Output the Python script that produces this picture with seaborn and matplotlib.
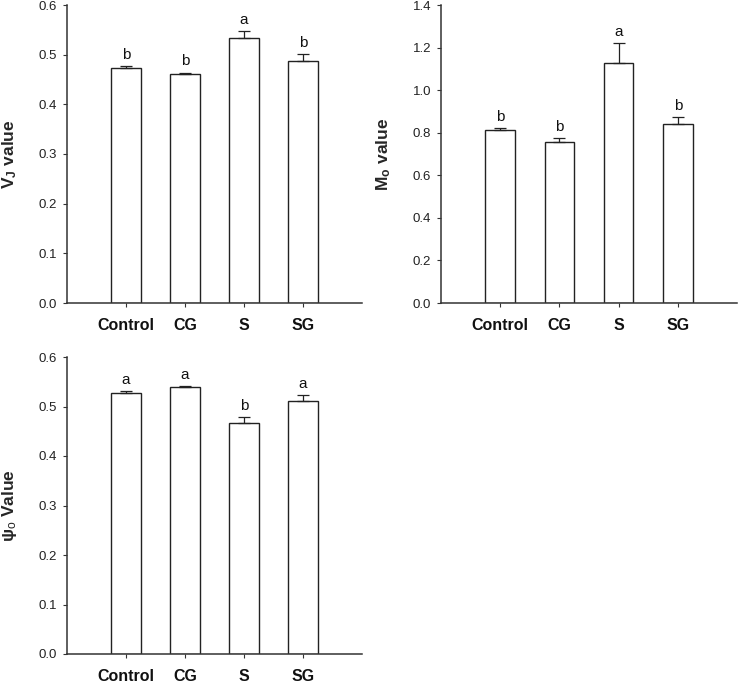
import matplotlib
matplotlib.use("Agg")
import matplotlib.pyplot as plt
import seaborn as sns
import numpy as np
import pandas as pd

groups = ["Control", "CG", "S", "SG"]

vj_mean = [0.473, 0.462, 0.534, 0.488]
vj_err = [0.004, 0.002, 0.013, 0.013]
vj_sig = ["b", "b", "a", "b"]

mo_mean = [0.811, 0.756, 1.126, 0.840]
mo_err = [0.010, 0.019, 0.095, 0.033]
mo_sig = ["b", "b", "a", "b"]

psi_mean = [0.527, 0.539, 0.466, 0.511]
psi_err = [0.004, 0.002, 0.013, 0.012]
psi_sig = ["a", "a", "b", "a"]

sns.set_style("ticks")
plt.rcParams["font.family"] = ["Liberation Sans", "DejaVu Sans"]
plt.rcParams["mathtext.fontset"] = "custom"
plt.rcParams["mathtext.rm"] = "Liberation Sans"
plt.rcParams["mathtext.bf"] = "Liberation Sans:bold"
plt.rcParams["mathtext.it"] = "Liberation Sans:italic"

EDGE = "#222222"
AXC = "#333333"


def draw_panel(ax, means, errs, sig, ylabel, ymax, ystep):
    df = pd.DataFrame({"group": groups, "value": means})
    sns.barplot(data=df, x="group", y="value", ax=ax, color="white",
                edgecolor=EDGE, linewidth=1.0, width=0.5, errorbar=None)
    pos = np.arange(len(groups))
    ax.errorbar(pos, means, yerr=[np.zeros(len(errs)), errs], fmt="none",
                ecolor=EDGE, elinewidth=0.9, capsize=4, capthick=0.9)
    for x, m, e, s in zip(pos, means, errs, sig):
        ax.annotate(s, (x, m + e), xytext=(0, 3), textcoords="offset points",
                    ha="center", va="bottom", fontsize=11, color="#111111")
    ax.set_xlim(-1, 4)
    ax.set_ylim(0, ymax)
    ax.set_yticks(np.arange(0, ymax + ystep / 2, ystep))
    ax.yaxis.set_major_formatter(matplotlib.ticker.FormatStrFormatter("%.1f"))
    ax.set_xlabel("")
    ax.set_ylabel(ylabel, fontsize=12.5, fontweight="bold")
    ax.yaxis.set_label_coords(-0.162, 0.5)
    sns.despine(ax=ax)
    for sp in ["left", "bottom"]:
        ax.spines[sp].set_color(AXC)
        ax.spines[sp].set_linewidth(1.1)
    ax.tick_params(axis="y", direction="out", length=3, width=0.8,
                   colors=AXC, labelsize=9.5, labelcolor="#222222", pad=4)
    ax.tick_params(axis="x", direction="out", length=3, width=0.8,
                   colors=AXC, labelsize=11.5, labelcolor="#111111", pad=8)
    for lab in ax.get_xticklabels():
        lab.set_fontweight("bold")


fig = plt.figure(figsize=(7.38, 6.82), dpi=100)
W, H = 738, 682
ax1 = fig.add_axes([67 / W, (H - 303) / H, 295 / W, 298 / H])
ax2 = fig.add_axes([441 / W, (H - 303) / H, 296 / W, 298 / H])
ax3 = fig.add_axes([67 / W, (H - 654) / H, 295 / W, 297 / H])

draw_panel(ax1, vj_mean, vj_err, vj_sig, r"V$_\mathbf{J}$ value", 0.6, 0.1)
draw_panel(ax2, mo_mean, mo_err, mo_sig, r"M$_\mathbf{o}$ value", 1.4, 0.2)
draw_panel(ax3, psi_mean, psi_err, psi_sig, r"ψ$_\mathrm{o}$ Value", 0.6, 0.1)

fig.savefig("out.png", dpi=100)
